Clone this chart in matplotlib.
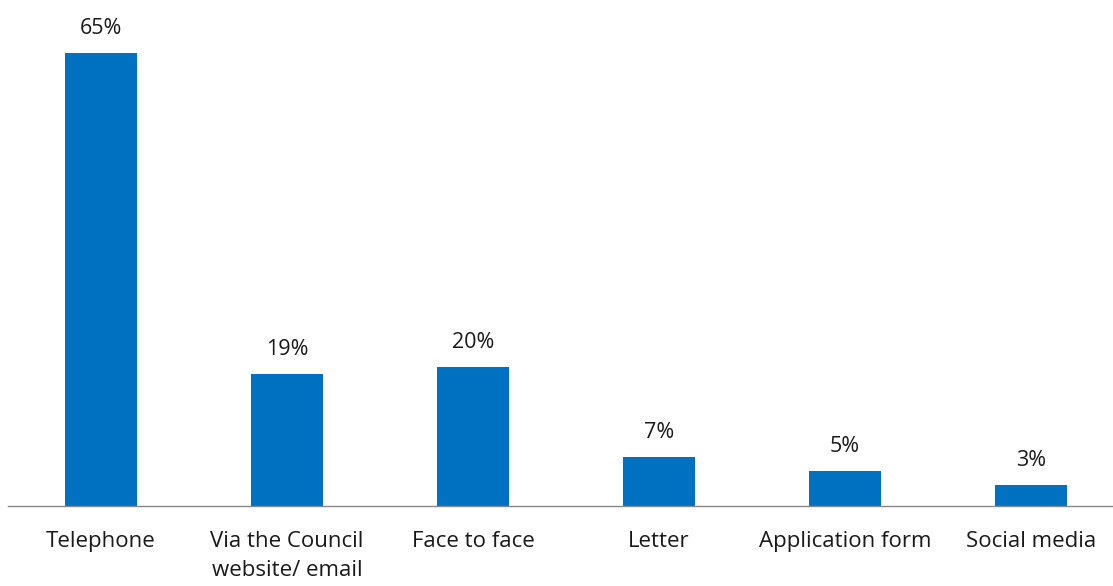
import matplotlib.pyplot as plt

# Data
categories = ['Telephone', 'Via the Council\nwebsite/ email', 'Face to face',
              'Letter', 'Application form', 'Social media']
values = [65, 19, 20, 7, 5, 3]
bar_color = '#0070C0'

plt.rcParams['font.family'] = ['Open Sans', 'DejaVu Sans']

fig = plt.figure(figsize=(11.13, 5.86), dpi=100)
ax = fig.add_axes([8 / 1113, 80 / 586, 1116 / 1113, 488 / 586])

x = list(range(len(categories)))
bars = ax.bar(x, values, width=0.39, color=bar_color)

for xi, v in zip(x, values):
    ax.text(xi, v + 2.0, f'{v}%', ha='center', va='bottom', fontsize=15.5, color='#1a1a1a')

ax.set_xlim(-0.5, 5.5)
ax.set_ylim(0, 70)
ax.set_xticks(x)
ax.set_xticklabels(categories, fontsize=16, color='#1a1a1a', linespacing=1.5, va='top')
ax.tick_params(axis='x', length=0, pad=18)
ax.set_yticks([])

for side in ['top', 'right', 'left']:
    ax.spines[side].set_visible(False)
ax.spines['bottom'].set_color('#888888')
ax.spines['bottom'].set_linewidth(1)

fig.savefig('out.png', dpi=100)
